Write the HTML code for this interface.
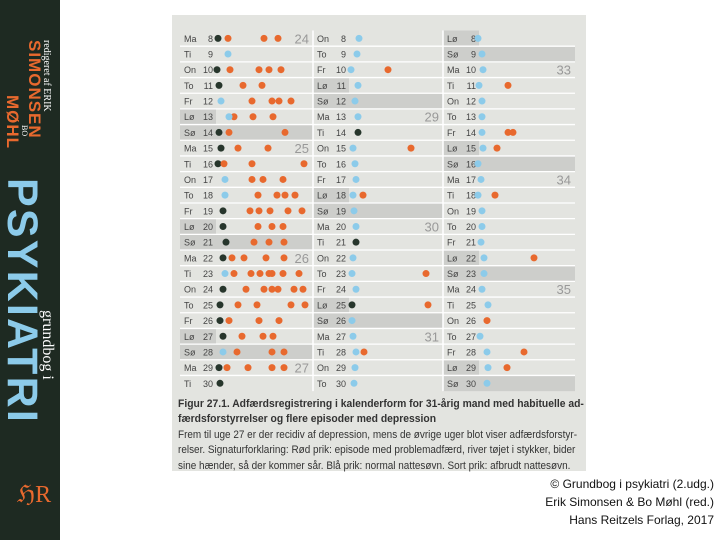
<!DOCTYPE html>
<html><head><meta charset="utf-8"><style>
html,body{margin:0;padding:0;width:720px;height:540px;background:#fff;overflow:hidden;font-family:"Liberation Sans",sans-serif}
#spine{position:absolute;left:0;top:0;width:60px;height:540px;background:#1e2a22}
.vt{position:absolute;writing-mode:vertical-rl;white-space:nowrap}
#panel{position:absolute;left:172px;top:15px;width:414px;height:456px;background:#e3e4e0}
#cap{position:absolute;left:178px;top:397px;width:430px;font-size:11px;line-height:15.4px;color:#333;transform:scaleX(0.94);transform-origin:0 0;white-space:nowrap}
#credit{position:absolute;right:6px;top:475px;text-align:right;font-size:12px;line-height:18px;color:#111}
</style></head><body>
<div id="spine">
  <div class="vt" style="left:41px;top:40px;font-family:'Liberation Serif',serif;font-size:10px;line-height:11px;color:#fff">redigeret af ERIK</div>
  <div class="vt" style="left:27px;top:40px;font-weight:bold;font-size:17px;line-height:15px;color:#e8692e;letter-spacing:1px">SIMONSEN</div>
  <div class="vt" style="left:20px;top:125px;font-family:'Liberation Serif',serif;font-size:8px;line-height:9px;color:#fff">BO</div>
  <div class="vt" style="left:5px;top:95px;font-weight:bold;font-size:17px;line-height:15px;color:#e8692e;letter-spacing:1px">MØHL</div>
  <div class="vt" style="left:2px;top:178px;font-weight:bold;font-size:43px;line-height:40px;color:#8ccbea;letter-spacing:2.2px">PSYKIATRI</div>
  <div class="vt" style="left:38px;top:310px;font-family:'Liberation Serif',serif;font-size:16px;line-height:18px;color:#fff">grundbog i</div>
  <div style="position:absolute;left:17px;top:480px;font-family:'Liberation Serif',serif;font-size:24px;color:#e8692e">ℌR</div>
</div>
<div id="panel"></div>
<svg id="chart" width="720" height="540" style="position:absolute;left:0;top:0"></svg>
<div id="cap">
<b>Figur 27.1. Adfærdsregistrering i kalenderform for 31-årig mand med habituelle ad-<br>færdsforstyrrelser og flere episoder med depression</b><br>
<span style="font-size:10.6px">Frem til uge 27 er der recidiv af depression, mens de øvrige uger blot viser adfærdsforstyr-<br>relser. Signaturforklaring: Rød prik: episode med problemadfærd, river tøjet i stykker, bider<br>sine hænder, så der kommer sår. Blå prik: normal nattesøvn. Sort prik: afbrudt nattesøvn.</span>
</div>
<div id="credit">© Grundbog i psykiatri (2.udg.)<br>Erik Simonsen &amp; Bo Møhl (red.)<br>Hans Reitzels Forlag, 2017</div>
<script>
const dayNumbers=[8,9,10,11,12,13,14,15,16,17,18,19,20,21,22,23,24,25,26,27,28,29,30];
const weekdayNames=["Ma","Ti","On","To","Fr","Lø","Sø"];
const columnStartWeekday=[0,2,5];
const weekLabels=[[24,25,26,27],[29,30,31],[33,34,35]];
const weekLabelDays=[[8,15,22,29],[13,20,27],[10,17,24]];
// dots: [day, hour, type] o=episode(red) u=normal sleep(blue) b=interrupted sleep(black)
const dotsMonth1=[[8,0.5,'b'],[8,3,'o'],[8,12,'o'],[8,15.5,'o'],[9,3,'u'],
[10,0.25,'b'],[10,3.5,'o'],[10,10.75,'o'],[10,13.25,'o'],[10,16.25,'o'],
[11,0.75,'b'],[11,6.75,'o'],[11,11.5,'o'],
[12,1.25,'u'],[12,9,'o'],[12,14,'o'],[12,15.75,'o'],[12,18.75,'o'],
[13,4.5,'o'],[13,3.25,'u'],[13,9.25,'o'],[13,14.25,'o'],
[14,0.75,'b'],[14,3.25,'o'],[14,17.25,'o'],
[15,1.25,'b'],[15,5.5,'o'],[15,13,'o'],
[16,0.5,'b'],[16,2,'o'],[16,9,'o'],[16,22,'o'],
[17,2.25,'u'],[17,9,'o'],[17,11.75,'o'],[17,16.75,'o'],
[18,2.25,'u'],[18,10.5,'o'],[18,15.25,'o'],[18,17.25,'o'],[18,19.75,'o'],
[19,1.75,'b'],[19,8.5,'o'],[19,10.75,'o'],[19,13.5,'o'],[19,18,'o'],[19,21.5,'o'],
[20,1.75,'b'],[20,10.5,'o'],[20,14,'o'],[20,16.75,'o'],
[21,2.5,'b'],[21,9.5,'o'],[21,13.25,'o'],[21,17,'o'],
[22,1.75,'b'],[22,4,'o'],[22,7,'o'],[22,12.5,'o'],[22,17,'o'],
[23,2.25,'u'],[23,4.5,'o'],[23,8.75,'o'],[23,11,'o'],[23,13.25,'o'],[23,14,'o'],[23,16.75,'o'],[23,20.75,'o'],
[24,1.75,'b'],[24,7.5,'o'],[24,12,'o'],[24,14,'o'],[24,15.5,'o'],[24,19.5,'o'],[24,21.75,'o'],
[25,1,'b'],[25,5.5,'o'],[25,10.25,'o'],[25,18.75,'o'],[25,22.25,'o'],
[26,1,'b'],[26,3.25,'o'],[26,10.75,'o'],[26,15.75,'o'],
[27,1.75,'b'],[27,6.5,'o'],[27,11.75,'o'],[27,14.25,'o'],
[28,1.75,'u'],[28,5.25,'o'],[28,14,'o'],[28,17,'o'],
[29,0.75,'b'],[29,2.75,'o'],[29,8,'o'],[29,14,'o'],[29,17,'o'],[30,1,'b']];
const dotsMonth2=[[8,2.5,'u'],[9,2,'u'],[10,0.5,'u'],[10,9.75,'o'],[11,2.25,'u'],[12,1.5,'u'],[13,2.25,'u'],[14,2.25,'b'],
[15,1,'u'],[15,15.5,'o'],[16,1.5,'u'],[17,1.75,'u'],[18,1,'u'],[18,3.5,'o'],[19,1.25,'u'],[20,1.75,'u'],[21,1.75,'b'],
[22,1,'u'],[23,0.75,'u'],[23,19.25,'o'],[24,1.75,'u'],[25,0.75,'b'],[25,19.75,'o'],[26,0.75,'u'],[27,1,'u'],
[28,1.75,'u'],[28,3.75,'o'],[29,1.5,'u'],[30,1.25,'u']];
const dotsMonth3=[[8,-0.25,'u'],[9,0.75,'u'],[10,1,'u'],[11,0,'u'],[11,7.25,'o'],[12,0.75,'u'],[13,0.75,'u'],
[14,0.75,'u'],[14,7.25,'o'],[14,8.5,'o'],[15,1,'u'],[15,4.5,'o'],[16,-0.25,'u'],[17,0.5,'u'],[18,-0.25,'u'],[18,4,'o'],
[19,0.75,'u'],[20,0.75,'u'],[21,0.5,'u'],[22,1.25,'u'],[22,13.75,'o'],[23,1.25,'u'],[24,0.75,'u'],[25,2.25,'u'],
[26,2,'o'],[27,0.25,'u'],[28,2,'u'],[28,11.25,'o'],[29,2.25,'u'],[29,7,'o'],[30,2,'u']];
const allDots=[dotsMonth1,dotsMonth2,dotsMonth3];

const svg=document.getElementById('chart');
const NS='http://www.w3.org/2000/svg';
const colLeft=[180,313,443], colW=[133,130,132];
const top0=30.5, rowH=15.68;
function yScale(day){return top0+(day-dayNumbers[0]+0.5)*rowH;}
function xScale(c,h){return colLeft[c]+36+h*4;}
function mk(tag,attrs){const e=document.createElementNS(NS,tag);for(const k in attrs)e.setAttribute(k,attrs[k]);svg.appendChild(e);return e;}
const colors={o:'#e8692e',u:'#8ccbea',b:'#27362c'};
for(let c=0;c<3;c++){
  dayNumbers.forEach((d,i)=>{
    const wd=weekdayNames[(columnStartWeekday[c]+i)%7];
    const y0=top0+i*rowH;
    if(wd==='Sø'){const r=mk('rect',{x:colLeft[c],y:y0,width:colW[c],height:rowH,fill:'#cdcecb'});
      
      }
    if(wd==='Lø'){const r=mk('rect',{x:colLeft[c],y:y0,width:36,height:rowH,fill:'#cdcecb'});
      
      }
    const t1=mk('text',{x:colLeft[c]+4,y:y0+rowH/2+3.5,'font-size':'9','fill':'#444'});t1.textContent=wd;
    
    
    const t2=mk('text',{x:colLeft[c]+33,y:y0+rowH/2+3.5,'font-size':'9','fill':'#444','text-anchor':'end'});t2.textContent=d;
    
    
    if(i>0){const l=mk('line',{x1:colLeft[c],x2:colLeft[c]+colW[c],y1:y0,y2:y0,stroke:'#fff','stroke-width':'1.3'});
      
      }
  });
  weekLabels[c].forEach((w,j)=>{
    const t=mk('text',{x:colLeft[c]+colW[c]-4,y:yScale(weekLabelDays[c][j])+5,'font-size':'13','fill':'#999','text-anchor':'end'});
    t.textContent=w;
    
    
  });
  allDots[c].forEach(p=>{
    const ci=mk('circle',{cx:xScale(c,p[1]),cy:yScale(p[0]),r:3.5,fill:colors[p[2]]});
    
    
  });
}
[313,443].forEach(x=>{const l=mk('line',{x1:x,x2:x,y1:top0,y2:top0+23*rowH,stroke:'#fff','stroke-width':'1.5'});
  
  });
</script>
</body></html>
